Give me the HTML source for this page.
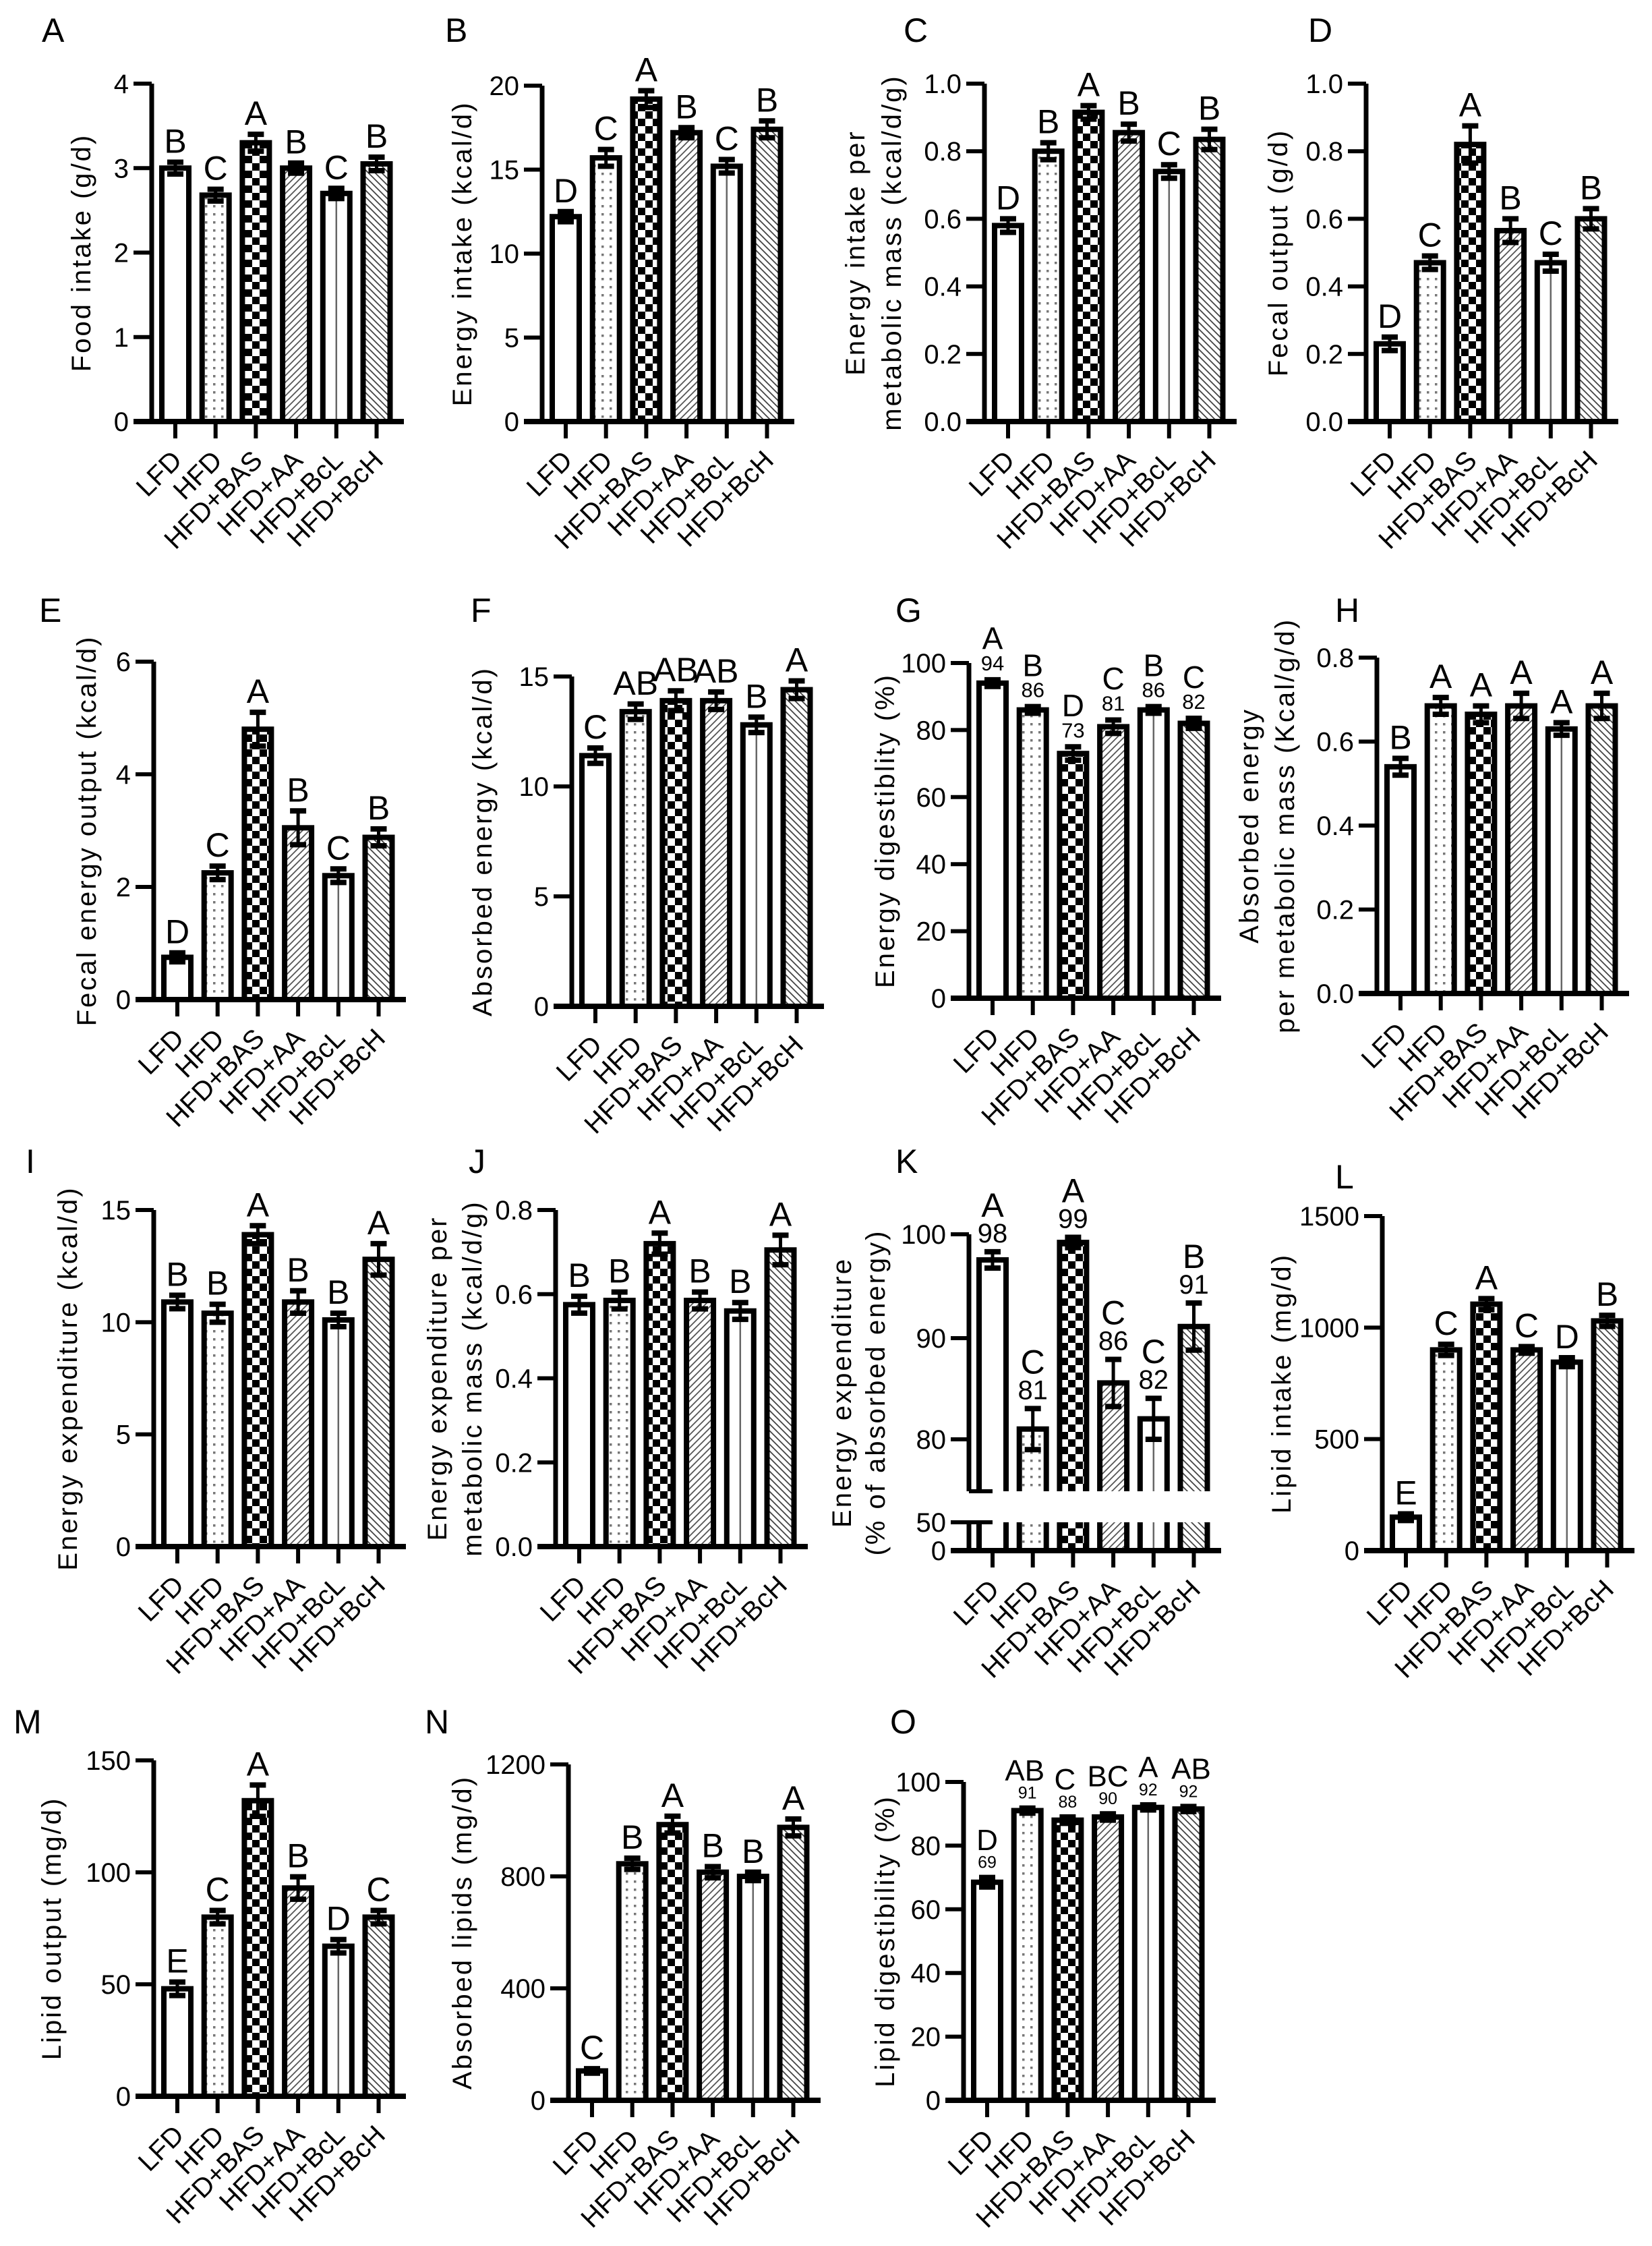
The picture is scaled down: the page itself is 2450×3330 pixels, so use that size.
<!DOCTYPE html>
<html><head><meta charset="utf-8"><style>
html,body{margin:0;padding:0;background:#fff}
svg{display:block}
text{font-family:"Liberation Sans",Arial,sans-serif;fill:#000}
</style></head><body>
<svg id="s" xmlns="http://www.w3.org/2000/svg" width="2450" height="3330" viewBox="0 0 2450 3330">
<defs>
<pattern id="pDot" patternUnits="userSpaceOnUse" width="12" height="12"><rect width="12" height="12" fill="#fff"/><rect x="4" y="4" width="3.5" height="3.5" fill="#777"/></pattern>
<pattern id="pChk" patternUnits="userSpaceOnUse" width="22" height="22"><rect width="22" height="22" fill="#fff"/><rect width="11" height="11" fill="#000"/><rect x="11" y="11" width="11" height="11" fill="#000"/></pattern>
<pattern id="pAA" patternUnits="userSpaceOnUse" width="10" height="10"><rect width="10" height="10" fill="#fff"/><path d="M-2,12 L12,-2 M-2,2 L2,-2 M8,12 L12,8" stroke="#555" stroke-width="1.8"/></pattern>
<pattern id="pBH" patternUnits="userSpaceOnUse" width="10" height="10"><rect width="10" height="10" fill="#fff"/><path d="M-2,-2 L12,12 M8,-2 L12,2 M-2,8 L2,12" stroke="#444" stroke-width="1.8"/></pattern>
</defs>
<g id="g"></g>
</svg>
<script>
(function(){
var out=[];
function t(x,y,s,str,anchor,extra){out.push('<text x="'+x+'" y="'+y+'" font-size="'+s+'" text-anchor="'+(anchor||'middle')+'" '+(extra||'')+'>'+str+'</text>');}
function l(x1,y1,x2,y2,w,c){out.push('<line x1="'+x1+'" y1="'+y1+'" x2="'+x2+'" y2="'+y2+'" stroke="'+(c||'#000')+'" stroke-width="'+w+'"/>');}
var fills=['#fff','url(#pDot)','url(#pChk)','url(#pAA)','#fff','url(#pBH)'];
var cats=['LFD','HFD','HFD+BAS','HFD+AA','HFD+BcL','HFD+BcH'];
function panel(p){
 var ax=p.ax, top=p.top, zero=p.zero;
 var Y=p.Y||function(v){return zero-(v/p.max)*(zero-top);};
 t(p.lx,p.ly+4,50,p.L,'start');
 var my=(top+zero)/2;
 p.title.forEach(function(s,i){var x=p.tx[i]+14;t(x,my,40,s,'middle','letter-spacing="3" transform="rotate(-90 '+x+' '+my+')"');});
 for(var i=0;i<6;i++){
  var cx=ax+35+i*59.7, v=p.v[i], e=p.e[i];
  var yt=Y(v);
  var bw=40;
  if(p.K){
   var ub=2211, lt=2257;
   out.push('<rect x="'+(cx-bw/2)+'" y="'+yt+'" width="'+bw+'" height="'+(ub-yt)+'" fill="'+fills[i]+'"/>');
   out.push('<rect x="'+(cx-bw/2)+'" y="'+lt+'" width="'+bw+'" height="'+(zero-lt)+'" fill="'+fills[i]+'"/>');
   if(i==4){l(cx,yt,cx,ub,2.5,'#666');l(cx,lt,cx,zero,2.5,'#666');}
   out.push('<path d="M'+(cx-bw/2)+','+ub+' V'+yt+' H'+(cx+bw/2)+' V'+ub+' M'+(cx-bw/2)+','+lt+' V'+zero+' M'+(cx+bw/2)+','+lt+' V'+zero+'" fill="none" stroke="#000" stroke-width="8"/>');
  } else {
   out.push('<rect x="'+(cx-bw/2)+'" y="'+yt+'" width="'+bw+'" height="'+(zero-yt)+'" fill="'+fills[i]+'" stroke="#000" stroke-width="8"/>');
   if(i==4) l(cx,yt+4,cx,zero,2.5,'#666');
  }
  var y1=Y(v+e), y2=Y(v-e);
  l(cx,y1,cx,y2,5);
  l(cx-12,y1,cx+12,y1,8); l(cx-12,y2,cx+12,y2,8);
  var ty=Math.min(y1,yt)-14;
  if(p.n){ t(cx,ty,p.ns||31,p.n[i]); ty-= (p.ns||31)*0.75+8; }
  if(p.sl[i]) t(cx+(p.so?p.so[i]:0),ty,p.ls||50,p.sl[i]);
  l(cx,zero,cx,zero+25,6);
  var ex=cx+12, ey=zero+60;
  t(ex,ey,40,cats[i],'end','transform="rotate(-45 '+ex+' '+ey+')"');
 }
 if(p.K){
  l(ax,1830,ax,2211,7); l(ax,2257,ax,zero,7);
  l(ax,2211,ax+35,2211,6); l(ax,2257,ax+35,2257,6);
  [[100,1830],[90,1984],[80,2134],[50,2257],[0,zero]].forEach(function(q){l(ax-27,q[1],ax,q[1],6);t(ax-34,q[1]+14,40,q[0],'end');});
 } else {
  l(ax,top,ax,zero,7);
  p.ticks.forEach(function(v){var y=Y(v);l(ax-27,y,ax,y,6);t(ax-34,y+14,40,p.fmt?v.toFixed(1):v,'end');});
 }
 l(ax-27,zero,ax+374,zero,8);
}
var P=[
{L:'A',lx:62,ly:58,ax:225,top:124,zero:625,max:4,ticks:[0,1,2,3,4],v:[3.0,2.68,3.3,3.0,2.7,3.05],e:[.07,.07,.1,.06,.06,.08],sl:['B','C','A','B','C','B'],title:['Food intake (g/d)'],tx:[120]},
{L:'B',lx:660,ly:58,ax:804,top:127,zero:625,max:20,ticks:[0,5,10,15,20],v:[12.2,15.7,19.2,17.2,15.2,17.4],e:[.3,.5,.5,.3,.4,.5],sl:['D','C','A','B','C','B'],title:['Energy intake (kcal/d)'],tx:[685]},
{L:'C',lx:1340,ly:58,ax:1460,top:124,zero:625,max:1,fmt:1,ticks:[0,.2,.4,.6,.8,1],v:[.58,.80,.915,.855,.74,.835],e:[.02,.025,.02,.025,.02,.03],sl:['D','B','A','B','C','B'],title:['Energy intake per','metabolic mass (kcal/d/g)'],tx:[1268,1322]},
{L:'D',lx:1940,ly:58,ax:2026,top:124,zero:625,max:1,fmt:1,ticks:[0,.2,.4,.6,.8,1],v:[.23,.47,.82,.565,.47,.60],e:[.02,.02,.055,.035,.025,.03],sl:['D','C','A','B','C','B'],title:['Fecal output (g/d)'],tx:[1895]},
{L:'E',lx:58,ly:918,ax:228,top:981,zero:1482,max:6,ticks:[0,2,4,6],v:[.75,2.25,4.8,3.05,2.2,2.88],e:[.08,.12,.3,.3,.12,.15],sl:['D','C','A','B','C','B'],title:['Fecal energy output (kcal/d)'],tx:[128]},
{L:'F',lx:698,ly:918,ax:848,top:1003,zero:1492,max:15,ticks:[0,5,10,15],v:[11.4,13.4,13.9,13.9,12.8,14.4],e:[.35,.35,.45,.4,.35,.4],sl:['C','AB','AB','AB','B','A'],title:['Absorbed energy (kcal/d)'],tx:[715]},
{L:'G',lx:1328,ly:918,ax:1437,top:983,zero:1480,max:100,ticks:[0,20,40,60,80,100],v:[94,86,73,81,86,82],e:[1,1,2,2,1,1.5],sl:['A','B','D','C','B','C'],n:[94,86,73,81,86,82],ls:46,title:['Energy digestiblity (%)'],tx:[1312]},
{L:'H',lx:1980,ly:918,ax:2042,top:975,zero:1473,max:.8,fmt:1,ticks:[0,.2,.4,.6,.8],v:[.54,.685,.665,.685,.63,.685],e:[.02,.02,.02,.03,.015,.03],sl:['B','A','A','A','A','A'],title:['Absorbed energy','per metabolic mass (Kcal/g/d)'],tx:[1852,1905]},
{L:'I',lx:38,ly:1735,ax:228,top:1794,zero:2293,max:15,ticks:[0,5,10,15],v:[10.9,10.4,13.9,10.9,10.1,12.8],e:[.3,.4,.4,.5,.3,.7],sl:['B','B','A','B','B','A'],title:['Energy expenditure (kcal/d)'],tx:[100]},
{L:'J',lx:695,ly:1735,ax:824,top:1794,zero:2293,max:.8,fmt:1,ticks:[0,.2,.4,.6,.8],v:[.575,.585,.72,.585,.56,.705],e:[.02,.02,.025,.02,.02,.035],sl:['B','B','A','B','B','A'],title:['Energy expenditure per','metabolic mass (kcal/d/g)'],tx:[648,700]},
{L:'K',lx:1328,ly:1735,ax:1437,K:1,top:1830,zero:2299,Y:function(v){return v>=70?1830+(100-v)*15.2:2299-v*0.84;},v:[97.5,81,99.2,85.5,82,91],e:[.8,2,.5,2.3,2,2.3],sl:['A','C','A','C','C','B'],n:[98,81,99,86,82,91],ns:40,title:['Energy expenditure','(% of absorbed energy)'],tx:[1248,1298]},
{L:'L',lx:1980,ly:1758,ax:2050,top:1803,zero:2299,max:1500,ticks:[0,500,1000,1500],v:[150,900,1105,900,845,1030],e:[15,25,25,15,20,25],sl:['E','C','A','C','D','B'],title:['Lipid intake (mg/d)'],tx:[1900]},
{L:'M',lx:20,ly:2566,ax:228,top:2610,zero:3108,max:150,ticks:[0,50,100,150],v:[48,80,132,93,67,80],e:[3,3,7,5,3,3],sl:['E','C','A','B','D','C'],title:['Lipid output (mg/d)'],tx:[76]},
{L:'N',lx:630,ly:2566,ax:843,top:2616,zero:3114,max:1200,ticks:[0,400,800,1200],v:[105,845,985,815,800,975],e:[8,20,30,20,15,30],sl:['C','B','A','B','B','A'],title:['Absorbed lipids (mg/d)'],tx:[685]},
{L:'O',lx:1320,ly:2566,ax:1429,top:2642,zero:3114,max:100,ticks:[0,20,40,60,80,100],v:[68.5,91,88,89,92,91.5],e:[1.5,.8,1,1,.8,.8],sl:['D','AB','C','BC','A','AB'],n:[69,91,88,90,92,92],ns:25,ls:44,so:[0,-4,-4,0,0,4],title:['Lipid digestibility (%)'],tx:[1312]}
];
P.forEach(panel);
document.getElementById('g').innerHTML=out.join('');
})();
</script>
</body></html>
